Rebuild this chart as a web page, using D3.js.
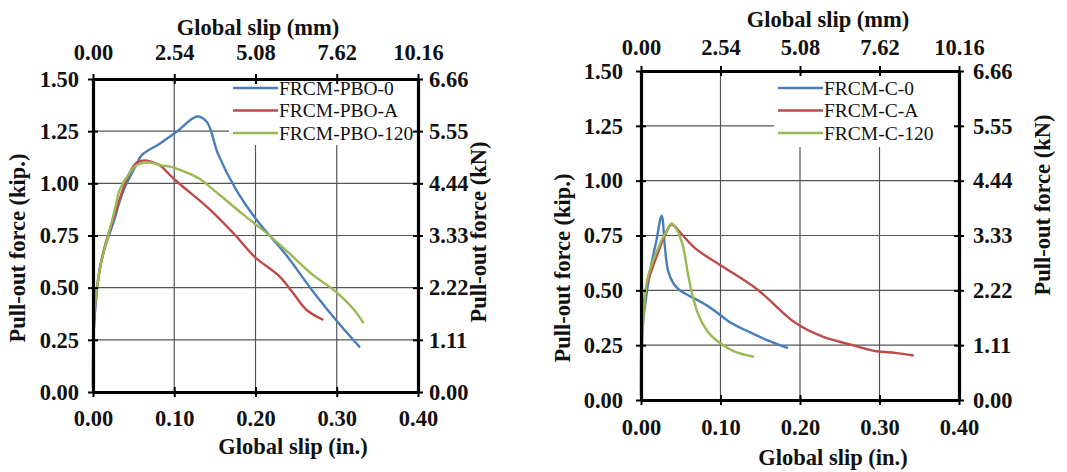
<!DOCTYPE html>
<html><head><meta charset="utf-8">
<script src="https://cdn.jsdelivr.net/npm/d3@7"></script>
<style>
html,body{margin:0;padding:0;background:#fff;}
svg{display:block;}
text{font-family:"Liberation Serif","Times New Roman",serif;fill:#111;}
</style></head>
<body>
<svg id="c" width="1067" height="472"></svg>
<script>
// ---- data ----
const xTicksIn = [0, 0.1, 0.2, 0.3, 0.4];
const xTickLabelsMm = ["0.00", "2.54", "5.08", "7.62", "10.16"];
const yTicksKip = [0, 0.25, 0.5, 0.75, 1.0, 1.25, 1.5];
const yTickLabelsKN = ["0.00", "1.11", "2.22", "3.33", "4.44", "5.55", "6.66"];

const pboNames = ["FRCM-PBO-0", "FRCM-PBO-A", "FRCM-PBO-120"];
const cNames = ["FRCM-C-0", "FRCM-C-A", "FRCM-C-120"];
const seriesColors = ["#4a7ebb", "#be4b48", "#98b954"];

const pbo0 = [[0,0.02],[0.001,0.3],[0.004,0.45],[0.0086,0.6],[0.016,0.71],[0.025,0.81],[0.037,0.96],[0.052,1.08],[0.06,1.135],[0.082,1.19],[0.103,1.247],[0.128,1.32],[0.14,1.295],[0.154,1.14],[0.175,0.977],[0.2015,0.824],[0.238,0.655],[0.271,0.48],[0.3,0.34],[0.3286,0.214]];
const pboA = [[0,0.05],[0.001,0.3],[0.004,0.47],[0.009,0.6],[0.016,0.72],[0.025,0.83],[0.035,0.95],[0.045,1.05],[0.054,1.1],[0.065,1.11],[0.074,1.1],[0.0825,1.085],[0.101,1.016],[0.14,0.888],[0.173,0.76],[0.199,0.648],[0.23,0.552],[0.2465,0.473],[0.263,0.393],[0.2835,0.345]];
const pbo120 = [[0,0.15],[0.001,0.35],[0.005,0.5],[0.01,0.62],[0.018,0.74],[0.026,0.86],[0.033,0.97],[0.045,1.05],[0.055,1.09],[0.07,1.1],[0.085,1.085],[0.095,1.08],[0.11,1.06],[0.13,1.024],[0.156,0.944],[0.185,0.85],[0.214,0.76],[0.24,0.67],[0.271,0.56],[0.296,0.49],[0.32,0.4],[0.333,0.33]];

const c0 = [[0,0.02],[0.001,0.3],[0.004,0.398],[0.012,0.6],[0.019,0.72],[0.026,0.84],[0.03,0.7],[0.034,0.59],[0.041,0.53],[0.049,0.5],[0.057,0.482],[0.077,0.444],[0.093,0.406],[0.113,0.352],[0.138,0.307],[0.162,0.268],[0.185,0.236]];
const cA = [[0.002,0.38],[0.004,0.45],[0.006,0.505],[0.02,0.658],[0.032,0.765],[0.0385,0.8],[0.0526,0.75],[0.069,0.689],[0.101,0.612],[0.146,0.505],[0.194,0.352],[0.227,0.291],[0.263,0.253],[0.296,0.222],[0.32,0.215],[0.343,0.203]];
const c120 = [[0,0.05],[0.002,0.3],[0.008,0.55],[0.02,0.68],[0.032,0.77],[0.0385,0.805],[0.0445,0.78],[0.0526,0.704],[0.0587,0.582],[0.0648,0.475],[0.0729,0.383],[0.085,0.307],[0.099,0.261],[0.117,0.222],[0.142,0.197]];

const svg = d3.select("#c");
const FS = 22.5;

function drawChart(cfg) {
  const g = svg.append("g");
  const x = d3.scaleLinear().domain([0, 0.4]).range([cfg.x0, cfg.x1]);
  const y = d3.scaleLinear().domain([0, 1.5]).range([cfg.y0, cfg.y1]);

  // gridlines
  g.append("g").selectAll("line").data(yTicksKip.slice(1, -1)).join("line")
    .attr("x1", cfg.x0).attr("x2", cfg.x1).attr("y1", d => y(d)).attr("y2", d => y(d))
    .attr("stroke", "#555").attr("stroke-width", 1.2);
  g.append("g").selectAll("line").data(xTicksIn.slice(1, -1)).join("line")
    .attr("y1", cfg.y0).attr("y2", cfg.y1).attr("x1", d => x(d)).attr("x2", d => x(d))
    .attr("stroke", "#555").attr("stroke-width", 1.2);

  // legend background
  g.append("rect").attr("x", cfg.legX - 4).attr("y", cfg.y1 + 2)
    .attr("width", cfg.x1 - cfg.legX + 1).attr("height", cfg.legBottom - cfg.y1 - 2)
    .attr("fill", "#fff");

  // series
  const line = d3.line().x(d => x(d[0])).y(d => y(d[1])).curve(d3.curveCatmullRom.alpha(0.5));
  cfg.series.forEach((s, i) => {
    g.append("path").datum(s).attr("d", line).attr("fill", "none")
      .attr("stroke", seriesColors[i]).attr("stroke-width", 2.4).attr("stroke-linejoin", "round");
  });

  // legend
  cfg.names.forEach((n, i) => {
    const ly = cfg.legY + i * 22.5;
    g.append("line").attr("x1", cfg.legX).attr("x2", cfg.legX + 45).attr("y1", ly).attr("y2", ly)
      .attr("stroke", seriesColors[i]).attr("stroke-width", 2.4);
    g.append("text").attr("x", cfg.legX + 46).attr("y", ly).attr("dy", "0.35em")
      .attr("font-size", 19.5).text(n);
  });

  // axes
  const axB = d3.axisBottom(x).tickValues(xTicksIn).tickFormat(d3.format(".2f")).tickSizeInner(5).tickSizeOuter(0);
  const axT = d3.axisTop(x).tickValues(xTicksIn).tickFormat((d, i) => xTickLabelsMm[i]).tickSizeInner(5).tickSizeOuter(0);
  const axL = d3.axisLeft(y).tickValues(yTicksKip).tickFormat(d3.format(".2f")).tickSizeInner(5).tickSizeOuter(0);
  const axR = d3.axisRight(y).tickValues(yTicksKip).tickFormat((d, i) => yTickLabelsKN[i]).tickSizeInner(5).tickSizeOuter(0);

  function style(sel) {
    sel.select(".domain").attr("stroke", "#000").attr("stroke-width", 3.2);
    sel.selectAll(".tick line").attr("stroke", "#000").attr("stroke-width", 2);
    sel.selectAll(".tick text").attr("font-family", "Liberation Serif, serif")
      .attr("font-weight", "bold").attr("font-size", FS).attr("fill", "#111");
  }
  const gb = g.append("g").attr("transform", `translate(0,${cfg.y0})`).call(axB);
  style(gb); gb.selectAll(".tick text").attr("y", cfg.bLab).attr("dy", "0.35em");
  const gt = g.append("g").attr("transform", `translate(0,${cfg.y1})`).call(axT);
  style(gt); gt.selectAll(".tick text").attr("y", -cfg.tLab).attr("dy", "0.35em");
  const gl = g.append("g").attr("transform", `translate(${cfg.x0},0)`).call(axL);
  style(gl); gl.selectAll(".tick text").attr("x", -cfg.lLab);
  const gr = g.append("g").attr("transform", `translate(${cfg.x1},0)`).call(axR);
  style(gr); gr.selectAll(".tick text").attr("x", cfg.rLab);
  [gb, gt].forEach((a, k) => a.selectAll(".tick line").attr("y1", k === 0 ? -5 : 5));
  [gl, gr].forEach((a, k) => a.selectAll(".tick line").attr("x1", k === 0 ? 5 : -5));

  // titles
  const title = (tx, ty, rot, s) => g.append("text")
    .attr("transform", `translate(${tx},${ty})` + (rot ? " rotate(-90)" : "")).attr("dy", "0.35em")
    .attr("text-anchor", "middle").attr("font-weight", "bold").attr("font-size", FS).text(s);
  title(cfg.tTitleX, cfg.tTitleY, false, "Global slip (mm)");
  title(cfg.bTitleX, cfg.bTitleY, false, "Global slip (in.)");
  title(cfg.lTitleX, cfg.lTitleY, true, "Pull-out force (kip.)");
  title(cfg.rTitleX, cfg.rTitleY, true, "Pull-out force (kN)");
}

drawChart({
  x0: 93, x1: 418, y0: 392, y1: 79,
  series: [pbo0, pboA, pbo120], names: pboNames,
  legX: 233, legY: 88, legBottom: 145,
  bLab: 26, tLab: 27, lLab: 14, rLab: 11,
  tTitleX: 258, tTitleY: 27, bTitleX: 293, bTitleY: 446,
  lTitleX: 17, lTitleY: 248, rTitleX: 478, rTitleY: 232
});
drawChart({
  x0: 641, x1: 959, y0: 400, y1: 71,
  series: [c0, cA, c120], names: cNames,
  legX: 778, legY: 88, legBottom: 147,
  bLab: 27, tLab: 24, lLab: 18, rLab: 14,
  tTitleX: 828, tTitleY: 19, bTitleX: 833, bTitleY: 457,
  lTitleX: 562, lTitleY: 268, rTitleX: 1042, rTitleY: 205
});
</script>
</body></html>
